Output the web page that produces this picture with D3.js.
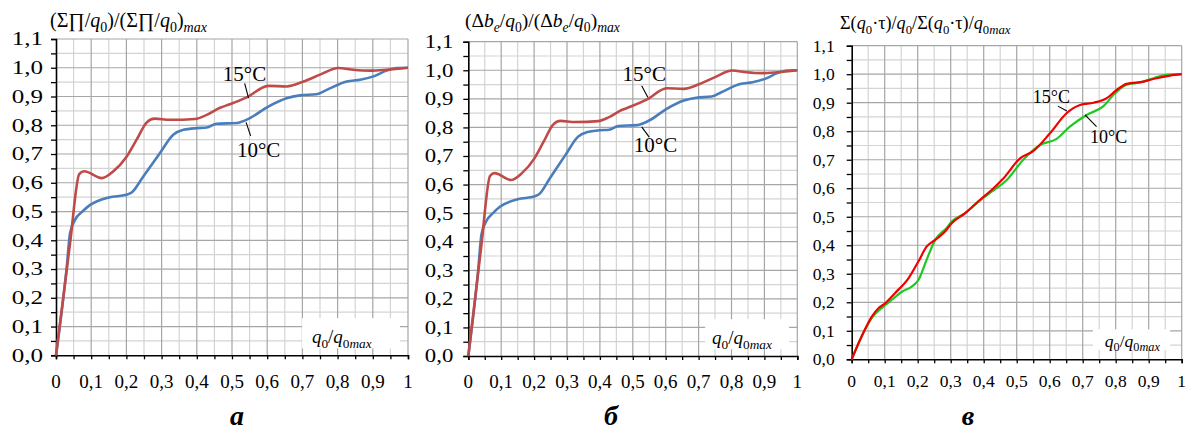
<!DOCTYPE html>
<html>
<head>
<meta charset="utf-8">
<script src="https://cdn.jsdelivr.net/npm/d3@7"></script>
<style>
body{margin:0;background:#fff}
svg{display:block;font-family:"Liberation Serif","Times New Roman",serif}
</style>
</head>
<body>
<svg id="chart" width="1187" height="430"></svg>
<script>
// tick values and labels
var xTicks = [0, 0.1, 0.2, 0.3, 0.4, 0.5, 0.6, 0.7, 0.8, 0.9, 1];
var xTickLabels = ["0", "0,1", "0,2", "0,3", "0,4", "0,5", "0,6", "0,7", "0,8", "0,9", "1"];
var yTicks = [0, 0.1, 0.2, 0.3, 0.4, 0.5, 0.6, 0.7, 0.8, 0.9, 1.0, 1.1];
var yTickLabels = ["0,0", "0,1", "0,2", "0,3", "0,4", "0,5", "0,6", "0,7", "0,8", "0,9", "1,0", "1,1"];

// panels a and б (same shape of curves), 15°C and 10°C
var redX  = [0, 0.04, 0.066, 0.08, 0.13, 0.163, 0.2, 0.229, 0.258, 0.28, 0.324, 0.395, 0.428, 0.466, 0.494, 0.542, 0.603, 0.655, 0.703, 0.75, 0.802, 0.845, 0.892, 0.939, 1.0];
var redY  = [0, 0.39, 0.63, 0.64, 0.616, 0.64, 0.69, 0.75, 0.81, 0.823, 0.819, 0.822, 0.836, 0.861, 0.873, 0.897, 0.937, 0.935, 0.952, 0.976, 0.999, 0.993, 0.99, 0.993, 1.0];
var blueX = [0, 0.03, 0.04, 0.054, 0.075, 0.097, 0.15, 0.2, 0.215, 0.248, 0.295, 0.333, 0.362, 0.4, 0.428, 0.456, 0.513, 0.551, 0.603, 0.655, 0.693, 0.74, 0.769, 0.826, 0.864, 0.902, 0.939, 0.968, 1.0];
var blueY = [0, 0.3, 0.425, 0.471, 0.50, 0.523, 0.549, 0.558, 0.566, 0.622, 0.703, 0.767, 0.784, 0.79, 0.792, 0.805, 0.808, 0.825, 0.865, 0.894, 0.904, 0.908, 0.923, 0.952, 0.958, 0.97, 0.99, 0.999, 1.0];

// panel в
var vRedX   = [0, 0.03, 0.061, 0.081, 0.101, 0.131, 0.172, 0.202, 0.227, 0.253, 0.283, 0.303, 0.343, 0.394, 0.424, 0.46, 0.51, 0.55, 0.601, 0.651, 0.692, 0.733, 0.773, 0.803, 0.833, 0.884, 0.924, 0.965, 1.0];
var vRedY   = [0, 0.08, 0.15, 0.179, 0.196, 0.232, 0.284, 0.343, 0.395, 0.419, 0.448, 0.477, 0.512, 0.565, 0.594, 0.635, 0.705, 0.730, 0.793, 0.863, 0.892, 0.9, 0.916, 0.945, 0.966, 0.974, 0.986, 0.995, 1.0];
var vGreenX = [0, 0.03, 0.061, 0.096, 0.121, 0.152, 0.182, 0.202, 0.227, 0.253, 0.287, 0.303, 0.343, 0.394, 0.424, 0.47, 0.52, 0.571, 0.621, 0.661, 0.712, 0.762, 0.798, 0.833, 0.874, 0.914, 0.954, 1.0];
var vGreenY = [0, 0.08, 0.145, 0.185, 0.208, 0.237, 0.255, 0.278, 0.349, 0.419, 0.46, 0.483, 0.512, 0.562, 0.588, 0.629, 0.7, 0.752, 0.773, 0.816, 0.857, 0.887, 0.933, 0.963, 0.971, 0.986, 0.998, 1.0];

var svg = d3.select("#chart");

var minorTicks = d3.range(1, 22, 2).map(function(i){ return i / 20; });

// parts: [text, flags]  i = italic, s = subscript
function addRich(sel, parts, fs){
    var cur = 0;
    parts.forEach(function(p){
        var f = p[1] || "";
        var sub = f.indexOf("s") >= 0;
        var target = sub ? fs * 0.25 : 0;
        var t = sel.append("tspan").text(p[0]).attr("dy", target - cur);
        cur = target;
        if (f.indexOf("i") >= 0) t.attr("font-style", "italic");
        if (sub) t.attr("font-size", (fs * 0.7) + "px");
    });
}

function drawPanel(p){
    var x = d3.scaleLinear().domain([0, 1]).range([p.left, p.right]);
    var y = d3.scaleLinear().domain([0, 1.1]).range([p.bottom, p.top]);
    var g = svg.append("g");

    //minor grid
    g.selectAll(".vminor").data(minorTicks.filter(function(d){return d < 1;})).enter().append("line")
        .attr("x1", function(d){return x(d);}).attr("x2", function(d){return x(d);})
        .attr("y1", y(0)).attr("y2", y(1.1))
        .attr("stroke", "#d4d4d4").attr("stroke-width", 1.2);
    g.selectAll(".hminor").data(minorTicks).enter().append("line")
        .attr("y1", function(d){return y(d);}).attr("y2", function(d){return y(d);})
        .attr("x1", x(0)).attr("x2", x(1))
        .attr("stroke", "#d4d4d4").attr("stroke-width", 1.2);
    //major grid
    g.selectAll(".vmajor").data(xTicks.slice(1)).enter().append("line")
        .attr("x1", function(d){return x(d);}).attr("x2", function(d){return x(d);})
        .attr("y1", y(0)).attr("y2", y(1.1))
        .attr("stroke", "#a6a6a6").attr("stroke-width", 1.2);
    g.selectAll(".hmajor").data(yTicks.slice(1)).enter().append("line")
        .attr("y1", function(d){return y(d);}).attr("y2", function(d){return y(d);})
        .attr("x1", x(0)).attr("x2", x(1))
        .attr("stroke", "#a6a6a6").attr("stroke-width", 1.2);

    //axis label box
    g.append("rect")
        .attr("x", x(p.boxU[0])).attr("width", x(p.boxU[1]) - x(p.boxU[0]))
        .attr("y", y(p.boxV[1])).attr("height", y(p.boxV[0]) - y(p.boxV[1]))
        .attr("fill", "#fff");
    var xl = g.append("text")
        .attr("x", x(p.xLabel[0])).attr("y", y(p.xLabel[1]))
        .attr("font-size", p.fs + "px");
    addRich(xl, [["q","i"],["0","s"],["/"],["q","i"],["0","s"],["max","is"]], p.fs);

    //axes
    var xAxis = d3.axisBottom(x).tickValues(xTicks.concat(minorTicks.filter(function(d){return d<1;}))).tickSize(4).tickFormat("");
    g.append("g").attr("transform", "translate(0," + y(0) + ")").call(xAxis)
        .call(function(a){ a.selectAll("line").attr("stroke", "#000").attr("stroke-width", 1.3); a.select(".domain").attr("stroke", "#000").attr("stroke-width", 1.6); });
    var yAxis = d3.axisLeft(y).tickValues(yTicks.concat(minorTicks)).tickSize(5).tickFormat("");
    g.append("g").attr("transform", "translate(" + x(0) + ",0)").call(yAxis)
        .call(function(a){ a.selectAll("line").attr("stroke", "#000").attr("stroke-width", 1.3); a.select(".domain").attr("stroke", "#000").attr("stroke-width", 1.6); });

    //tick labels
    g.selectAll(".xlab").data(xTicks).enter().append("text")
        .attr("x", function(d){return x(d);}).attr("y", y(0) + p.xLabDy)
        .attr("text-anchor", "middle").attr("font-size", p.fs + "px")
        .text(function(d, i){return xTickLabels[i];});
    g.selectAll(".ylab").data(yTicks).enter().append("text")
        .attr("transform", function(d){return "translate(" + (x(0) - p.yLabGap) + "," + (y(d) + p.fs * 0.34) + ") scale(" + p.yStretch + ",1)";})
        .attr("text-anchor", "end").attr("font-size", p.fs + "px")
        .text(function(d, i){return yTickLabels[i];});

    //curves
    var line = d3.line().x(function(d){return x(d[0]);}).y(function(d){return y(d[1]);}).curve(d3.curveMonotoneX);
    p.series.forEach(function(s){
        g.append("path").datum(d3.zip(s.xs, s.ys))
            .attr("d", line).attr("fill", "none")
            .attr("stroke", s.color).attr("stroke-width", p.lw)
            .attr("stroke-linejoin", "round");
    });

    //annotations
    p.notes.forEach(function(n){
        g.append("line")
            .attr("x1", x(n.line[0])).attr("y1", y(n.line[1]))
            .attr("x2", x(n.line[2])).attr("y2", y(n.line[3]))
            .attr("stroke", "#000").attr("stroke-width", 1.1);
        g.append("text").attr("x", x(n.at[0])).attr("y", y(n.at[1]))
            .attr("font-size", p.noteFs + "px").text(n.text);
    });

    //title
    var t = svg.append("text").attr("x", p.titleX).attr("y", p.titleY).attr("font-size", p.titleFs + "px");
    addRich(t, p.title, p.titleFs);

    //panel letter
    svg.append("text").attr("x", p.letterX).attr("y", 425)
        .attr("text-anchor", "middle").attr("font-size", "28px")
        .attr("font-weight", "bold").attr("font-style", "italic")
        .text(p.letter);
}

drawPanel({
    left: 56, right: 408, top: 39, bottom: 355.3,
    fs: 19, yStretch: 1.32, yLabGap: 13, xLabDy: 33, lw: 2.6, noteFs: 21,
    series: [{xs: blueX, ys: blueY, color: "#4a7ebb"}, {xs: redX, ys: redY, color: "#be4b48"}],
    boxU: [0.699, 0.977], boxV: [0.024, 0.129], xLabel: [0.727, 0.042],
    notes: [
        {text: "15°C", at: [0.474, 0.955], line: [0.536, 0.946, 0.547, 0.894]},
        {text: "10°C", at: [0.514, 0.689], line: [0.54, 0.81, 0.553, 0.763]}
    ],
    titleX: 50, titleY: 27, titleFs: 20,
    title: [["(Σ∏/"],["q","i"],["0","s"],[")/(Σ∏/"],["q","i"],["0","s"],[")"],["max","is"]],
    letter: "а", letterX: 237
});

drawPanel({
    left: 468.3, right: 797.3, top: 41.7, bottom: 356,
    fs: 19, yStretch: 1.2, yLabGap: 15, xLabDy: 32, lw: 2.6, noteFs: 21,
    series: [{xs: blueX, ys: blueY, color: "#4a7ebb"}, {xs: redX, ys: redY, color: "#be4b48"}],
    boxU: [0.72, 0.975], boxV: [0.024, 0.129], xLabel: [0.741, 0.042],
    notes: [
        {text: "15°C", at: [0.469, 0.962], line: [0.527, 0.946, 0.546, 0.905]},
        {text: "10°C", at: [0.503, 0.713], line: [0.527, 0.802, 0.55, 0.766]}
    ],
    titleX: 465, titleY: 27, titleFs: 19.5,
    title: [["(Δ"],["b","i"],["e","is"],["/"],["q","i"],["0","s"],[")/(Δ"],["b","i"],["e","is"],["/"],["q","i"],["0","s"],[")"],["max","is"]],
    letter: "б", letterX: 611
});

drawPanel({
    left: 851.7, right: 1181.7, top: 45.7, bottom: 359.3,
    fs: 17.5, yStretch: 1, yLabGap: 17, xLabDy: 27.5, lw: 2.2, noteFs: 18,
    series: [{xs: vGreenX, ys: vGreenY, color: "#1ec81e"}, {xs: vRedX, ys: vRedY, color: "#f00000"}],
    boxU: [0.731, 0.965], boxV: [0.033, 0.105], xLabel: [0.767, 0.044],
    notes: [
        {text: "15°C", at: [0.549, 0.898], line: [0.625, 0.888, 0.652, 0.871]},
        {text: "10°C", at: [0.722, 0.758], line: [0.707, 0.857, 0.742, 0.816]}
    ],
    titleX: 840, titleY: 29, titleFs: 18.2,
    title: [["Σ("],["q","i"],["0","s"],["·τ)/"],["q","i"],["0","s"],["/Σ("],["q","i"],["0","s"],["·τ)/"],["q","i"],["0","s"],["max","is"]],
    letter: "в", letterX: 968
});
</script>
</body>
</html>
